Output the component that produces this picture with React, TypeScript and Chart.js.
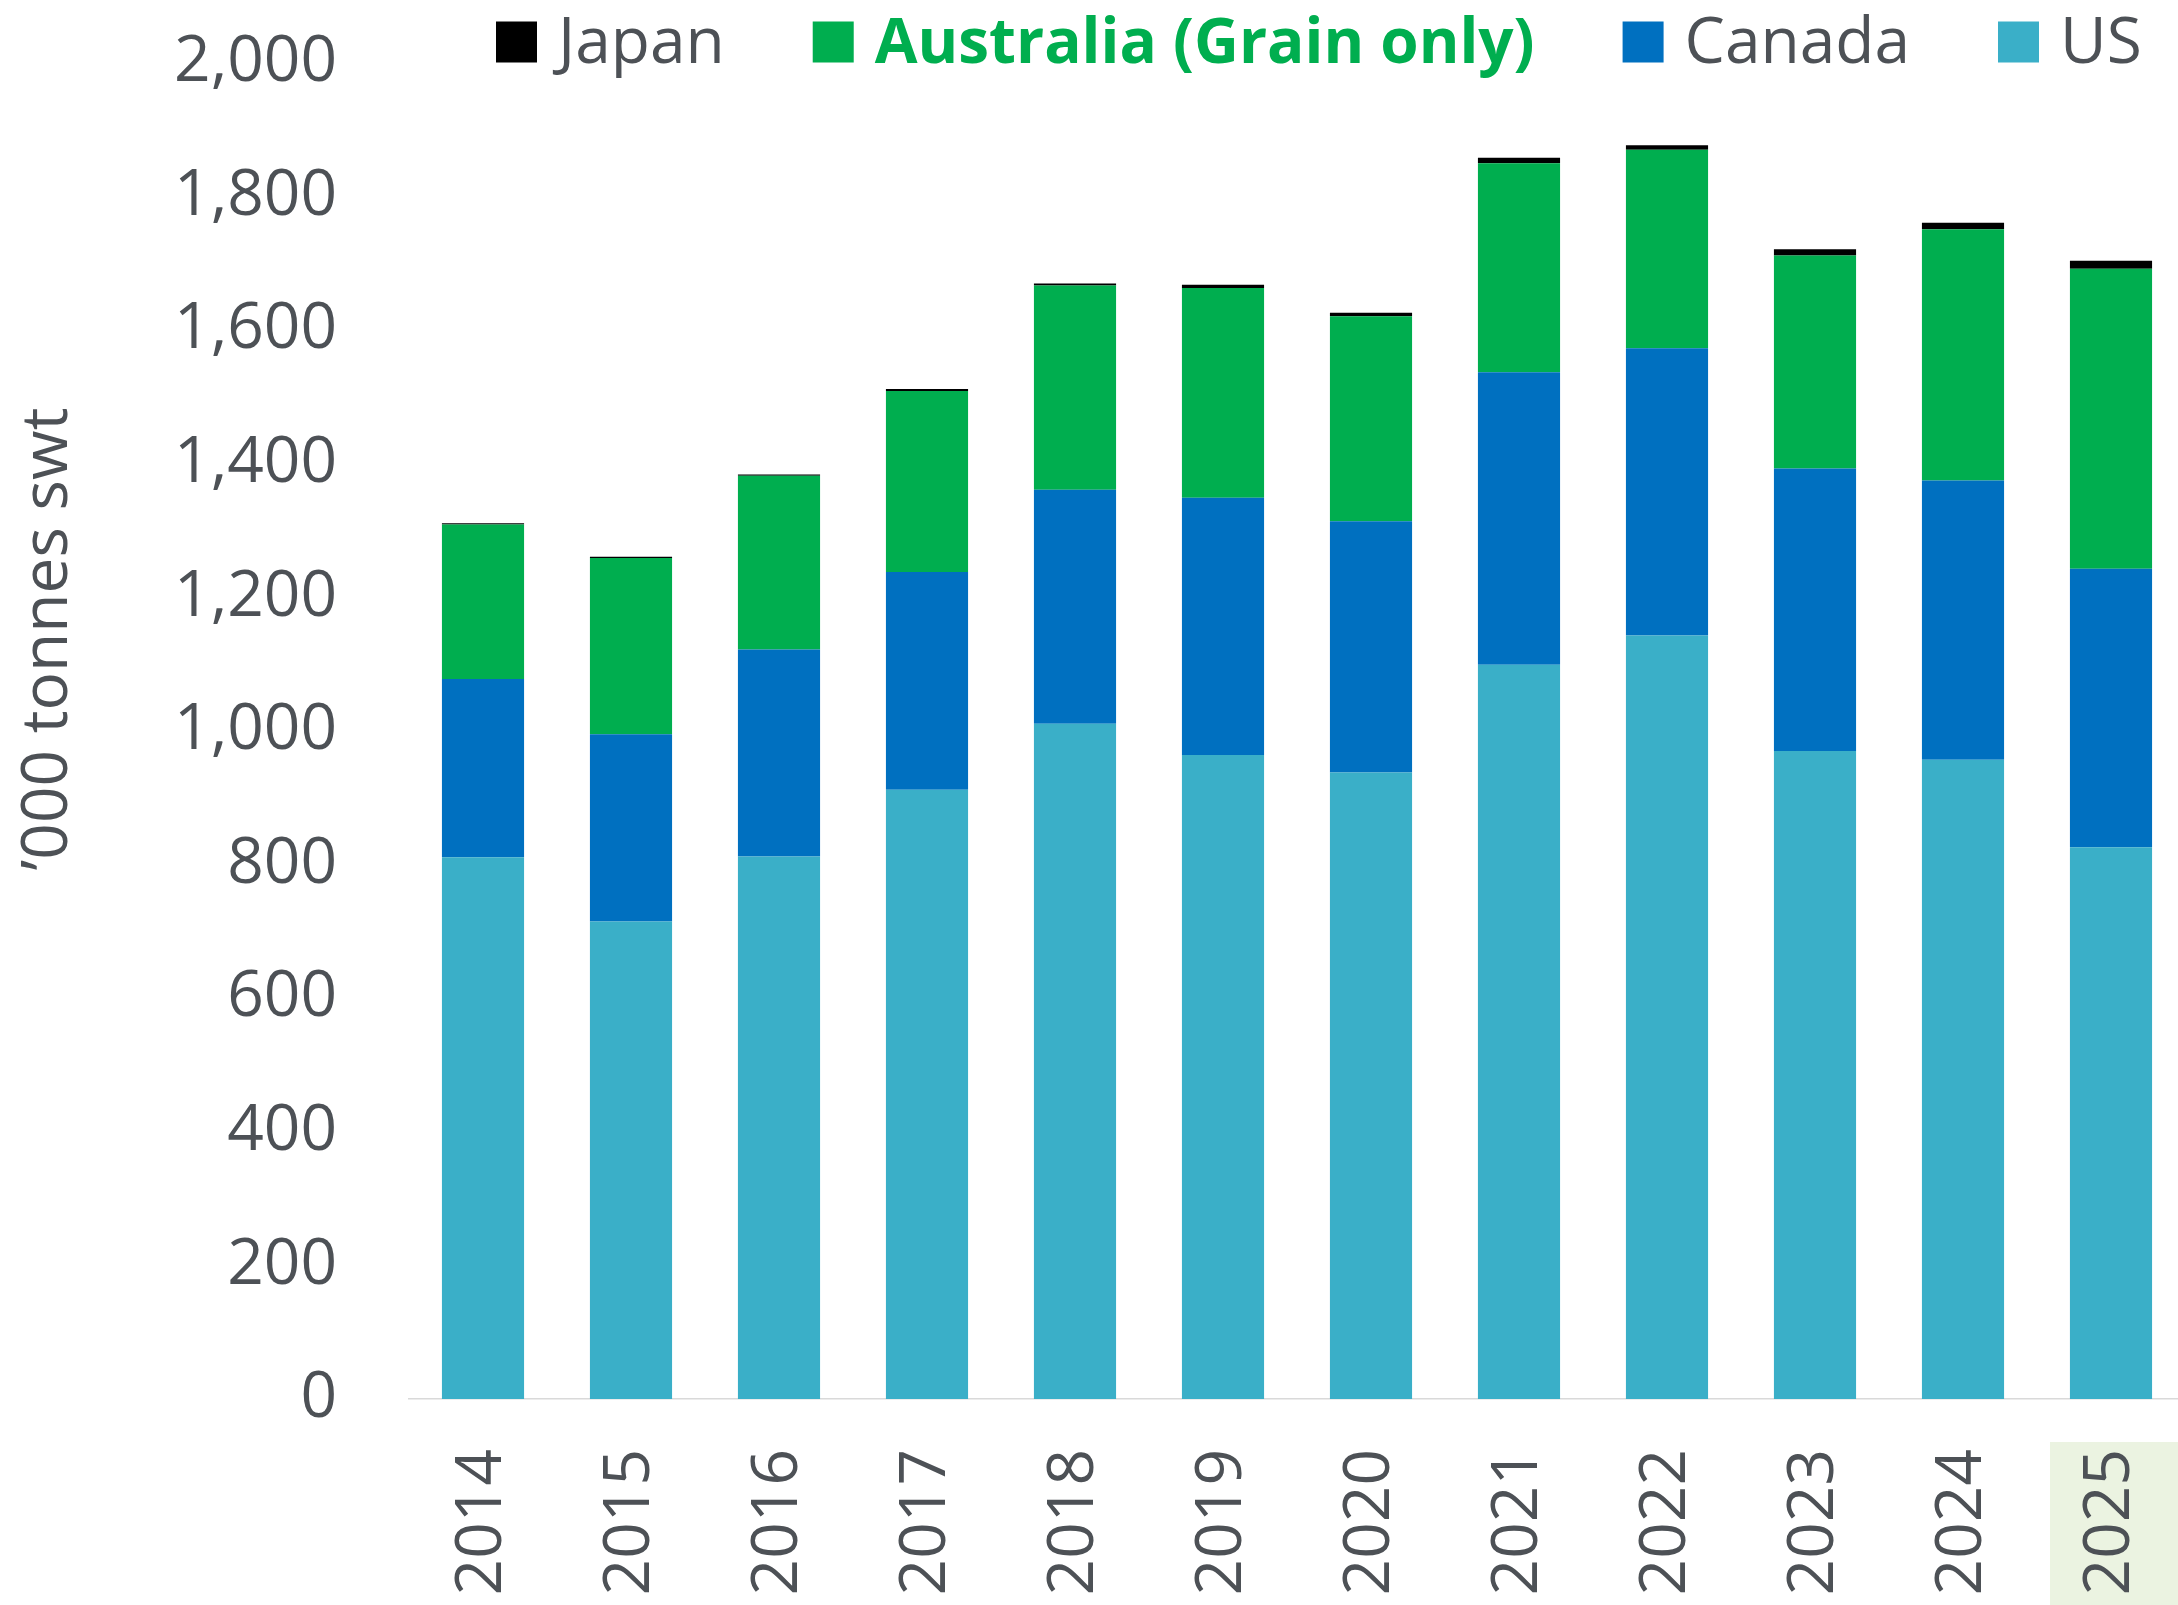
import React, { useEffect, useRef } from 'react';
import { Chart, registerables } from 'chart.js';

Chart.register(...registerables);

// ---- Data ----
const years = ['2014', '2015', '2016', '2017', '2018', '2019', '2020', '2021', '2022', '2023', '2024', '2025'];
const usValues = [811, 715, 812, 912, 1011, 964, 938, 1099, 1143, 970, 957, 826];
const canadaValues = [267, 280, 310, 326, 350, 385, 376, 438, 430, 423, 418, 417];
const australiaValues = [231, 264, 260, 271, 306, 314, 307, 313, 297, 319, 376, 449];
const japanValues = [2, 2, 2, 3, 3, 5, 5, 8, 7, 9, 10, 12];
const seriesNames = ['US', 'Canada', 'Australia (Grain only)', 'Japan'];
const yMin = 0;
const yMax = 2000;
const yStep = 200;
const yAxisTitle = '\u2019000 tonnes swt';
const highlightedYear = '2025';
const boldLegendSeries = 'Australia (Grain only)';

// ---- Styles ----
const FONT = '"Open Sans", "Noto Sans", sans-serif';
const TEXT_GRAY = '#4D5156';
const COLOR_US = '#3AAFC8';
const COLOR_CANADA = '#0070C0';
const COLOR_AUS = '#00AE4F';
const COLOR_JAPAN = '#000000';
const AXIS_LINE = '#D9D9D9';
const HIGHLIGHT_BG = '#EBF3E1';
const FONT_SIZE = 64;
const BOLD_FONT_SIZE = 62;

const highlightPlugin = {
  id: 'highlightCategory',
  beforeDraw(chart: any) {
    const xs = chart.scales.x;
    const idx = years.indexOf(highlightedYear);
    if (idx < 0) return;
    const center = xs.getPixelForTick(idx);
    const half = xs.width / years.length / 2;
    const ctx = chart.ctx;
    ctx.save();
    ctx.fillStyle = HIGHLIGHT_BG;
    const top = chart.chartArea.bottom + 43;
    ctx.fillRect(center - 61, top, half + 61, chart.height - top);
    ctx.restore();
  },
};

const legendAndTitlePlugin = {
  id: 'customLegendTitle',
  afterDraw(chart: any) {
    const ctx = chart.ctx;
    ctx.save();
    // Legend (reverse order of stacking)
    const items = [...chart.data.datasets].reverse();
    let x = 496;
    const box = 41;
    const cy = 42;
    const baseline = 63;
    items.forEach((ds: any) => {
      const bold = ds.label === boldLegendSeries;
      ctx.font = bold ? `bold ${BOLD_FONT_SIZE}px ${FONT}` : `${FONT_SIZE}px ${FONT}`;
      ctx.fillStyle = ds.backgroundColor;
      ctx.fillRect(x, cy - box / 2, box, box);
      x += box + 21;
      ctx.fillStyle = bold ? COLOR_AUS : TEXT_GRAY;
      ctx.textAlign = 'left';
      ctx.textBaseline = 'alphabetic';
      ctx.fillText(ds.label, x, baseline);
      x += ctx.measureText(ds.label).width + 88;
    });
    // Y axis title
    ctx.translate(67, 639);
    ctx.rotate(-Math.PI / 2);
    ctx.font = `${FONT_SIZE}px ${FONT}`;
    ctx.fillStyle = TEXT_GRAY;
    ctx.textAlign = 'center';
    ctx.textBaseline = 'alphabetic';
    ctx.fillText(yAxisTitle, 0, 0);
    ctx.restore();
  },
};

export default function App() {
  const canvasRef = useRef<HTMLCanvasElement | null>(null);

  useEffect(() => {
    const canvas = canvasRef.current;
    if (!canvas) return;
    const seriesValues = [usValues, canadaValues, australiaValues, japanValues];
    const seriesColors = [COLOR_US, COLOR_CANADA, COLOR_AUS, COLOR_JAPAN];
    const chart = new Chart(canvas, {
      type: 'bar',
      data: {
        labels: years,
        datasets: seriesNames.map((name, i) => ({
          label: name,
          data: seriesValues[i],
          backgroundColor: seriesColors[i],
          borderWidth: 0,
          categoryPercentage: 1,
          barPercentage: 0.555,
        })),
      },
      options: {
        animation: false,
        responsive: false,
        devicePixelRatio: 1,
        layout: { padding: { top: 63, right: 0, bottom: 0, left: 0 } },
        plugins: {
          legend: { display: false },
          tooltip: { enabled: false },
          title: { display: false },
        },
        scales: {
          x: {
            stacked: true,
            grid: { display: false, drawTicks: false },
            border: { display: true, color: AXIS_LINE, width: 1.5 },
            ticks: {
              minRotation: 90,
              maxRotation: 90,
              autoSkip: false,
              padding: 50,
              color: TEXT_GRAY,
              font: { family: FONT, size: FONT_SIZE },
            },
            afterFit: (s: any) => {
              s.height = 206;
              s.paddingLeft = 0;
              s.paddingRight = 0;
              s.paddingTop = 0;
              s.paddingBottom = 0;
            },
          },
          y: {
            stacked: true,
            min: yMin,
            max: yMax,
            grid: { display: false, drawTicks: false },
            border: { display: false },
            ticks: {
              stepSize: yStep,
              padding: 72,
              color: TEXT_GRAY,
              font: { family: FONT, size: FONT_SIZE },
              callback: (v: any) => Number(v).toLocaleString('en-US'),
            },
            afterFit: (s: any) => {
              s.width = 409;
              s.paddingLeft = 0;
              s.paddingRight = 0;
              s.paddingTop = 0;
              s.paddingBottom = 0;
            },
          },
        },
      },
      plugins: [highlightPlugin, legendAndTitlePlugin],
    });
    return () => chart.destroy();
  }, []);

  return (
    <div
      style={{
        position: 'fixed',
        left: 0,
        top: 0,
        width: 2178,
        height: 1605,
        overflow: 'hidden',
        background: '#ffffff',
      }}
    >
      <canvas
        ref={canvasRef}
        width={2185}
        height={1605}
        style={{ display: 'block', width: 2185, height: 1605 }}
      />
    </div>
  );
}
